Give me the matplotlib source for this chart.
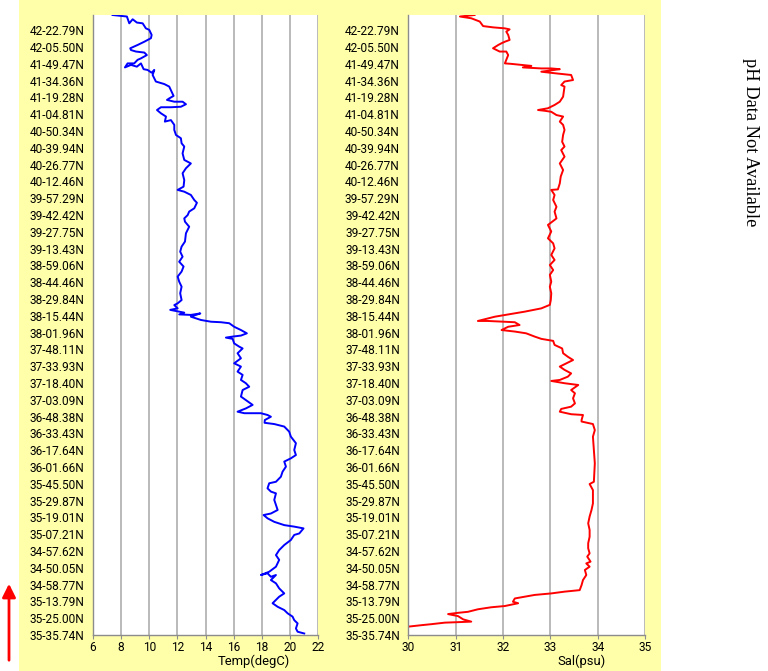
import numpy as np
import matplotlib
matplotlib.use('Agg')
import matplotlib.pyplot as plt
from matplotlib.patches import Rectangle, FancyArrowPatch

# Latitude labels along the track (top to bottom as shown)
lat_labels = ["42-22.79N", "42-05.50N", "41-49.47N", "41-34.36N", "41-19.28N",
              "41-04.81N", "40-50.34N", "40-39.94N", "40-26.77N", "40-12.46N",
              "39-57.29N", "39-42.42N", "39-27.75N", "39-13.43N", "38-59.06N",
              "38-44.46N", "38-29.84N", "38-15.44N", "38-01.96N", "37-48.11N",
              "37-33.93N", "37-18.40N", "37-03.09N", "36-48.38N", "36-33.43N",
              "36-17.64N", "36-01.66N", "35-45.50N", "35-29.87N", "35-19.01N",
              "35-07.21N", "34-57.62N", "34-50.05N", "34-58.77N", "35-13.79N",
              "35-25.00N", "35-35.74N"]

# Track position (record units, 0 = last record at bottom) and temperature
temp_dist = [246.0, 245.4, 242.7, 244.3, 243.0, 242.7, 240.7, 240.1, 238.1, 236.8,
             235.4, 234.1, 232.8, 232.1, 231.5, 231.1, 230.1, 228.8, 228.2, 226.8,
             226.8, 225.2, 226.2, 225.5, 226.8, 224.5, 224.2, 223.1, 224.2, 222.2,
             219.6, 218.6, 217.6, 215.6, 213.9, 212.9, 212.3, 211.6, 211.6, 210.6,
             209.6, 209.4, 209.4, 208.3, 207.0, 205.7, 203.7, 204.3, 202.4, 200.4,
             198.4, 197.1, 195.1, 193.8, 191.1, 188.5, 187.1, 185.2, 183.2, 180.5,
             177.9, 176.6, 175.9, 174.6, 172.6, 171.5, 169.3, 168.0, 166.6, 165.3,
             164.0, 162.0, 159.4, 156.1, 154.1, 152.1, 150.1, 148.1, 146.2, 144.2,
             142.2, 140.2, 138.2, 135.6, 132.9, 131.6, 130.9, 129.6, 129.0, 128.3,
             127.9, 127.2, 127.0, 127.6, 126.3, 125.0, 124.3, 124.1, 123.7, 122.3,
             121.0, 119.7, 118.8, 118.4, 118.0, 117.5, 115.7, 114.4, 113.7, 111.8,
             109.8, 107.8, 106.5, 104.5, 103.2, 101.2, 99.9, 98.5, 97.2, 94.6,
             93.2, 91.3, 89.9, 88.6, 88.0, 88.0, 87.3, 86.6, 85.3, 84.2,
             83.7, 82.7, 80.7, 78.7, 76.1, 73.4, 71.4, 70.1, 68.8, 66.8,
             64.8, 62.8, 60.8, 60.2, 58.2, 56.9, 56.2, 53.6, 51.6, 49.6,
             48.2, 47.6, 46.3, 44.9, 43.6, 43.0, 42.3, 40.3, 39.7, 37.7,
             35.7, 33.7, 31.7, 29.8, 27.1, 25.1, 23.8, 24.5, 23.1, 23.8,
             21.8, 20.5, 18.5, 16.5, 15.2, 13.9, 12.6, 11.2, 9.9, 8.6,
             7.3, 5.9, 4.6, 2.6, 1.3, 0.6]
temp_vals = [7.39, 8.41, 8.58, 8.82, 9.12, 9.53, 9.76, 10.00, 10.17, 10.12,
             9.65, 9.17, 8.65, 8.70, 9.05, 9.65, 9.83, 9.41, 9.17, 8.93,
             8.46, 8.27, 8.70, 9.12, 9.41, 9.60, 9.88, 10.17, 10.36, 10.24,
             10.47, 11.07, 11.42, 11.59, 11.73, 11.42, 11.26, 11.78, 12.37, 12.61,
             12.25, 11.54, 10.83, 10.55, 10.83, 11.19, 11.11, 11.54, 11.78, 11.78,
             11.90, 12.25, 12.30, 12.49, 12.37, 12.49, 12.96, 12.61, 12.37, 12.49,
             12.44, 12.02, 12.49, 12.96, 13.20, 13.39, 13.20, 12.84, 12.73, 12.49,
             12.54, 12.84, 12.61, 12.54, 12.30, 12.20, 12.37, 12.13, 12.44, 12.30,
             12.02, 12.13, 12.30, 12.20, 12.30, 12.02, 11.78, 12.02, 11.49, 12.13,
             12.49, 12.13, 12.96, 13.63, 12.96, 13.67, 14.39, 15.10, 15.69, 16.04,
             16.52, 16.94, 16.52, 15.93, 15.45, 15.93, 16.04, 16.40, 16.64, 16.28,
             16.52, 16.04, 16.52, 16.28, 16.64, 16.52, 16.87, 17.11, 16.64, 16.52,
             16.87, 17.35, 16.87, 16.28, 16.76, 17.94, 18.41, 18.65, 18.22, 18.20,
             18.89, 19.60, 19.95, 20.07, 20.43, 20.31, 20.43, 20.07, 19.60, 19.72,
             19.48, 19.36, 19.01, 18.53, 18.41, 18.65, 19.01, 18.89, 19.01, 19.13,
             18.65, 18.13, 18.41, 18.89, 19.60, 20.31, 20.97, 20.67, 20.31, 20.07,
             19.60, 19.24, 19.01, 19.24, 19.01, 18.53, 17.94, 18.41, 18.65, 19.01,
             18.65, 19.01, 19.24, 19.60, 19.24, 19.01, 18.77, 19.13, 19.60, 19.84,
             20.19, 20.31, 20.55, 20.43, 20.55, 21.02]

# Track position and salinity
sal_dist = [246.0, 245.4, 244.7, 243.4, 241.6, 241.1, 240.7, 240.3, 239.4, 238.1,
            236.1, 235.4, 234.8, 234.1, 232.8, 231.5, 231.5, 230.1, 228.2, 226.8,
            226.6, 226.2, 225.8, 225.2, 224.8, 224.8, 224.5, 223.5, 222.9, 222.2,
            220.2, 219.6, 218.2, 217.6, 213.6, 211.6, 210.3, 209.0, 208.3, 208.0,
            207.6, 206.3, 205.7, 203.7, 202.4, 200.4, 198.4, 195.7, 193.8, 192.4,
            189.8, 187.1, 184.5, 181.9, 179.2, 176.8, 176.6, 174.6, 172.6, 169.9,
            168.0, 165.3, 164.7, 162.7, 160.1, 157.4, 155.4, 153.4, 150.8, 148.8,
            146.8, 144.8, 142.9, 140.2, 138.2, 135.6, 132.9, 131.0, 129.6, 128.3,
            127.2, 126.3, 124.6, 124.6, 124.3, 124.1, 123.0, 122.3, 121.0, 120.4,
            119.7, 118.4, 117.5, 116.7, 115.1, 113.7, 111.8, 110.4, 109.1, 107.8,
            106.5, 105.2, 103.8, 102.5, 101.2, 100.8, 99.9, 99.2, 97.2, 95.9,
            93.9, 91.9, 90.6, 89.7, 88.6, 87.6, 87.3, 85.3, 84.7, 83.7,
            81.3, 78.7, 73.4, 68.1, 60.8, 59.9, 57.5, 52.2, 49.6, 47.0,
            44.3, 41.7, 39.0, 36.4, 34.4, 32.4, 31.1, 29.1, 28.4, 27.1,
            25.8, 23.8, 21.8, 19.8, 17.8, 17.2, 16.5, 15.9, 14.5, 13.2,
            12.6, 11.5, 11.0, 10.2, 9.2, 8.8, 8.3, 7.5, 6.2, 5.3,
            4.9, 4.3, 3.9, 3.3]
sal_vals = [31.40, 31.09, 31.33, 31.51, 31.58, 31.79, 32.04, 32.14, 32.07, 32.11,
            32.14, 32.04, 31.97, 31.90, 31.79, 31.93, 32.07, 32.11, 32.07, 32.04,
            32.18, 32.39, 32.60, 32.42, 32.81, 33.02, 33.20, 32.81, 33.09, 33.44,
            33.48, 33.30, 33.23, 33.30, 33.27, 33.20, 33.09, 32.95, 32.74, 32.88,
            33.02, 33.13, 33.27, 33.20, 33.27, 33.30, 33.27, 33.25, 33.30, 33.23,
            33.30, 33.20, 33.27, 33.22, 33.20, 33.16, 33.02, 33.09, 33.06, 33.13,
            33.09, 33.13, 33.09, 32.95, 33.02, 32.95, 33.06, 33.09, 33.02, 33.09,
            32.99, 33.06, 32.99, 33.02, 32.99, 33.02, 33.01, 32.99, 32.81, 32.46,
            32.11, 31.83, 31.47, 31.68, 32.00, 32.25, 32.35, 32.11, 31.97, 32.25,
            32.49, 32.67, 32.81, 33.06, 33.09, 33.25, 33.27, 33.37, 33.48, 33.34,
            33.20, 33.30, 33.44, 33.37, 33.20, 33.02, 33.30, 33.59, 33.44, 33.52,
            33.48, 33.52, 33.44, 33.23, 33.20, 33.44, 33.69, 33.66, 33.66, 33.90,
            33.94, 33.90, 33.92, 33.94, 33.92, 33.83, 33.90, 33.90, 33.87, 33.83,
            33.80, 33.83, 33.83, 33.80, 33.80, 33.83, 33.78, 33.85, 33.76, 33.83,
            33.73, 33.76, 33.69, 33.66, 33.62, 33.30, 33.02, 32.67, 32.25, 32.21,
            32.32, 32.04, 31.75, 31.47, 31.26, 31.05, 30.84, 31.05, 31.16, 31.33,
            30.77, 30.49, 30.28, 29.99]

temp_ticks = [6, 8, 10, 12, 14, 16, 18, 20, 22]
sal_ticks = [30, 31, 32, 33, 34, 35]

W, H = 768, 671
fig = plt.figure(figsize=(W / 100, H / 100), dpi=100)
fig.patch.set_facecolor('white')
fig.add_artist(Rectangle((19 / W, 0), (661 - 19) / W, 1, transform=fig.transFigure,
                         facecolor='#FFFFAA', edgecolor='none', zorder=-5))

tick_font = {'family': 'Roboto', 'size': 8.6}
ypos = np.linspace(0, 240, len(lat_labels))
ylabels = lat_labels[::-1]


def setup(ax, ticks, xlabel, label_x):
    ax.set_facecolor('white')
    ax.set_ylim(0, 246)
    ax.set_yticks(ypos)
    ax.set_yticklabels(ylabels, fontdict=tick_font)
    ax.set_xticks(ticks)
    ax.set_xticklabels([str(t) for t in ticks], fontdict=tick_font)
    ax.set_xlim(ticks[0], ticks[-1])
    ax.grid(axis='x', color='#b4b4b4', linewidth=1.3)
    ax.set_axisbelow(True)
    for s in ['top', 'right']:
        ax.spines[s].set_visible(False)
    for s in ['left', 'bottom']:
        ax.spines[s].set_color('#8c8c8c')
        ax.spines[s].set_linewidth(1.0)
    ax.tick_params(axis='y', length=0, pad=6.0)
    ax.tick_params(axis='x', length=3, color='#8c8c8c', pad=1.2)
    ax.set_xlabel(xlabel, fontfamily='Roboto', fontsize=9.4)
    ax.xaxis.label.set_position((label_x, 0))
    ax.xaxis.labelpad = 0.5


ax1 = fig.add_axes([93 / W, (H - 635) / H, 225 / W, 620 / H])
setup(ax1, temp_ticks, 'Temp(degC)', 0.715)
ax1.plot(temp_vals, temp_dist, color='#0000FF', linewidth=1.4)

ax2 = fig.add_axes([408.3 / W, (H - 635) / H, 236.7 / W, 620 / H])
setup(ax2, sal_ticks, 'Sal(psu)', 0.734)
ax2.plot(sal_vals, sal_dist, color='#FF0000', linewidth=1.4)

fig.text(750 / W, 1 - 142 / H, 'pH Data Not Available', rotation=270,
         ha='center', va='center', fontfamily='Liberation Serif', fontsize=13.2)

fig.add_artist(FancyArrowPatch((9 / W, (H - 663) / H), (9 / W, (H - 581) / H),
                               transform=fig.transFigure,
                               arrowstyle='-|>,head_length=0.8,head_width=0.4',
                               color='red', linewidth=2.0, mutation_scale=10))

fig.savefig('out.png', dpi=100, facecolor='white')
